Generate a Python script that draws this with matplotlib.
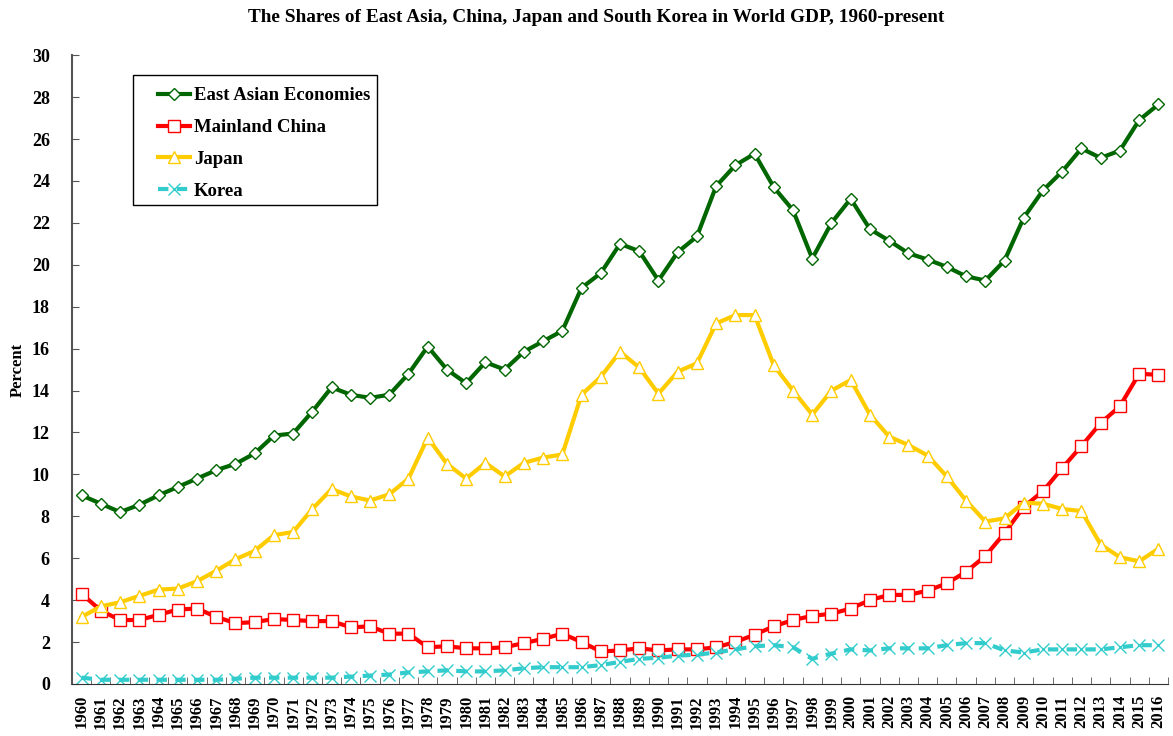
import matplotlib.pyplot as plt
from matplotlib.patches import Rectangle
import numpy as np

years = list(range(1960, 2017))

east_asia = [9.0, 8.6, 8.2, 8.55, 9.0, 9.4, 9.8, 10.2, 10.5, 11.0,
             11.85, 11.95, 13.0, 14.15, 13.8, 13.65, 13.8, 14.8, 16.1, 15.0,
             14.35, 15.35, 15.0, 15.85, 16.35, 16.85, 18.9, 19.6, 21.0, 20.65,
             19.25, 20.6, 21.35, 23.75, 24.75, 25.3, 23.7, 22.6, 20.3, 22.0,
             23.15, 21.7, 21.15, 20.55, 20.25, 19.9, 19.45, 19.25, 20.2, 22.25,
             23.55, 24.45, 25.55, 25.1, 25.45, 26.9, 27.65]

china = [4.3, 3.5, 3.05, 3.05, 3.3, 3.55, 3.6, 3.2, 2.9, 2.95,
         3.1, 3.05, 3.0, 3.0, 2.7, 2.75, 2.4, 2.4, 1.75, 1.8,
         1.7, 1.7, 1.75, 1.95, 2.15, 2.4, 2.0, 1.55, 1.6, 1.7,
         1.6, 1.65, 1.65, 1.75, 2.0, 2.35, 2.75, 3.05, 3.25, 3.35,
         3.6, 4.0, 4.25, 4.25, 4.45, 4.8, 5.35, 6.1, 7.2, 8.45,
         9.2, 10.3, 11.35, 12.45, 13.25, 14.8, 14.75]

japan = [3.2, 3.7, 3.9, 4.2, 4.5, 4.55, 4.9, 5.4, 5.95, 6.35,
         7.1, 7.25, 8.35, 9.3, 8.95, 8.75, 9.05, 9.8, 11.75, 10.5,
         9.8, 10.55, 9.9, 10.55, 10.8, 10.95, 13.8, 14.65, 15.85, 15.1,
         13.85, 14.9, 15.3, 17.2, 17.6, 17.6, 15.2, 14.0, 12.85, 14.0,
         14.5, 12.85, 11.8, 11.4, 10.9, 9.9, 8.75, 7.75, 7.9, 8.65,
         8.6, 8.35, 8.25, 6.65, 6.05, 5.85, 6.45]

korea = [0.3, 0.2, 0.2, 0.2, 0.2, 0.2, 0.2, 0.2, 0.25, 0.3,
         0.3, 0.3, 0.3, 0.3, 0.35, 0.4, 0.45, 0.55, 0.6, 0.65,
         0.6, 0.6, 0.65, 0.75, 0.8, 0.8, 0.8, 0.9, 1.05, 1.2,
         1.25, 1.35, 1.4, 1.5, 1.65, 1.8, 1.85, 1.75, 1.2, 1.45,
         1.65, 1.6, 1.7, 1.7, 1.7, 1.85, 1.95, 1.95, 1.6, 1.5,
         1.65, 1.65, 1.65, 1.65, 1.75, 1.85, 1.85]

plt.rcParams['font.family'] = ['Liberation Serif', 'DejaVu Serif']
plt.rcParams['font.weight'] = 'bold'

fig = plt.figure(figsize=(11.73, 7.36), dpi=100)
ax = fig.add_axes([0.0614, 0.0707, 0.9343, 0.8543])

x = np.arange(len(years))
ax.plot(x, east_asia, color='#006600', lw=3, marker='D', ms=6,
        mfc='white', mec='#006600', mew=1.0, label='East Asian Economies')
ax.plot(x, china, color='#FF0000', lw=3, marker='s', ms=8,
        mfc='white', mec='#FF0000', mew=1.0, label='Mainland China')
ax.plot(x, japan, color='#FFCC00', lw=3, marker='^', ms=9,
        mfc='white', mec='#FFCC00', mew=1.0, label='Japan')
ax.plot(x, korea, color='#33CCCC', lw=3, ls=(0, (2.5, 2)), marker='x', ms=8,
        mec='#33CCCC', mew=1.0, label='Korea')

ax.set_xlim(-0.5, len(years) - 0.5)
ax.set_ylim(0, 30)
ax.set_yticks(range(0, 31, 2))
ax.set_xticks(x)
ax.set_xticklabels([str(y) for y in years], rotation=90, fontsize=12, fontweight='bold')
ax.set_xticks(np.arange(-0.5, len(years), 1), minor=True)
ax.tick_params(axis='x', which='major', length=0, pad=8)
ax.tick_params(axis='x', which='minor', direction='in', length=5, color='#555555')
ax.tick_params(axis='y', direction='in', length=5, labelsize=13, pad=16, color='#555555')
for lab in ax.get_yticklabels():
    lab.set_fontweight('bold')

ax.spines['top'].set_visible(False)
ax.spines['right'].set_visible(False)
ax.spines['left'].set_color('#555555')
ax.spines['left'].set_linewidth(1.5)
ax.spines['bottom'].set_color('#333333')

ax.set_ylabel('Percent', fontsize=12, fontweight='bold', labelpad=4)
fig.suptitle('The Shares of East Asia, China, Japan and South Korea in World GDP, 1960-present',
             fontsize=13.9, fontweight='bold', x=0.508, y=0.988)

# legend box drawn separately so its size matches the original
ax.add_patch(Rectangle((0.0557, 0.7615), 0.2226, 0.2067, transform=ax.transAxes,
                       fill=False, edgecolor='black', lw=1.0, zorder=5))
leg = ax.legend(loc='upper left', bbox_to_anchor=(0.0785, 0.949), frameon=False,
                fontsize=13.5, handlelength=1.7, borderpad=0, labelspacing=0.78,
                handletextpad=0.2, borderaxespad=0)
for t in leg.get_texts():
    t.set_fontweight('bold')

plt.savefig('out.png', dpi=100)
